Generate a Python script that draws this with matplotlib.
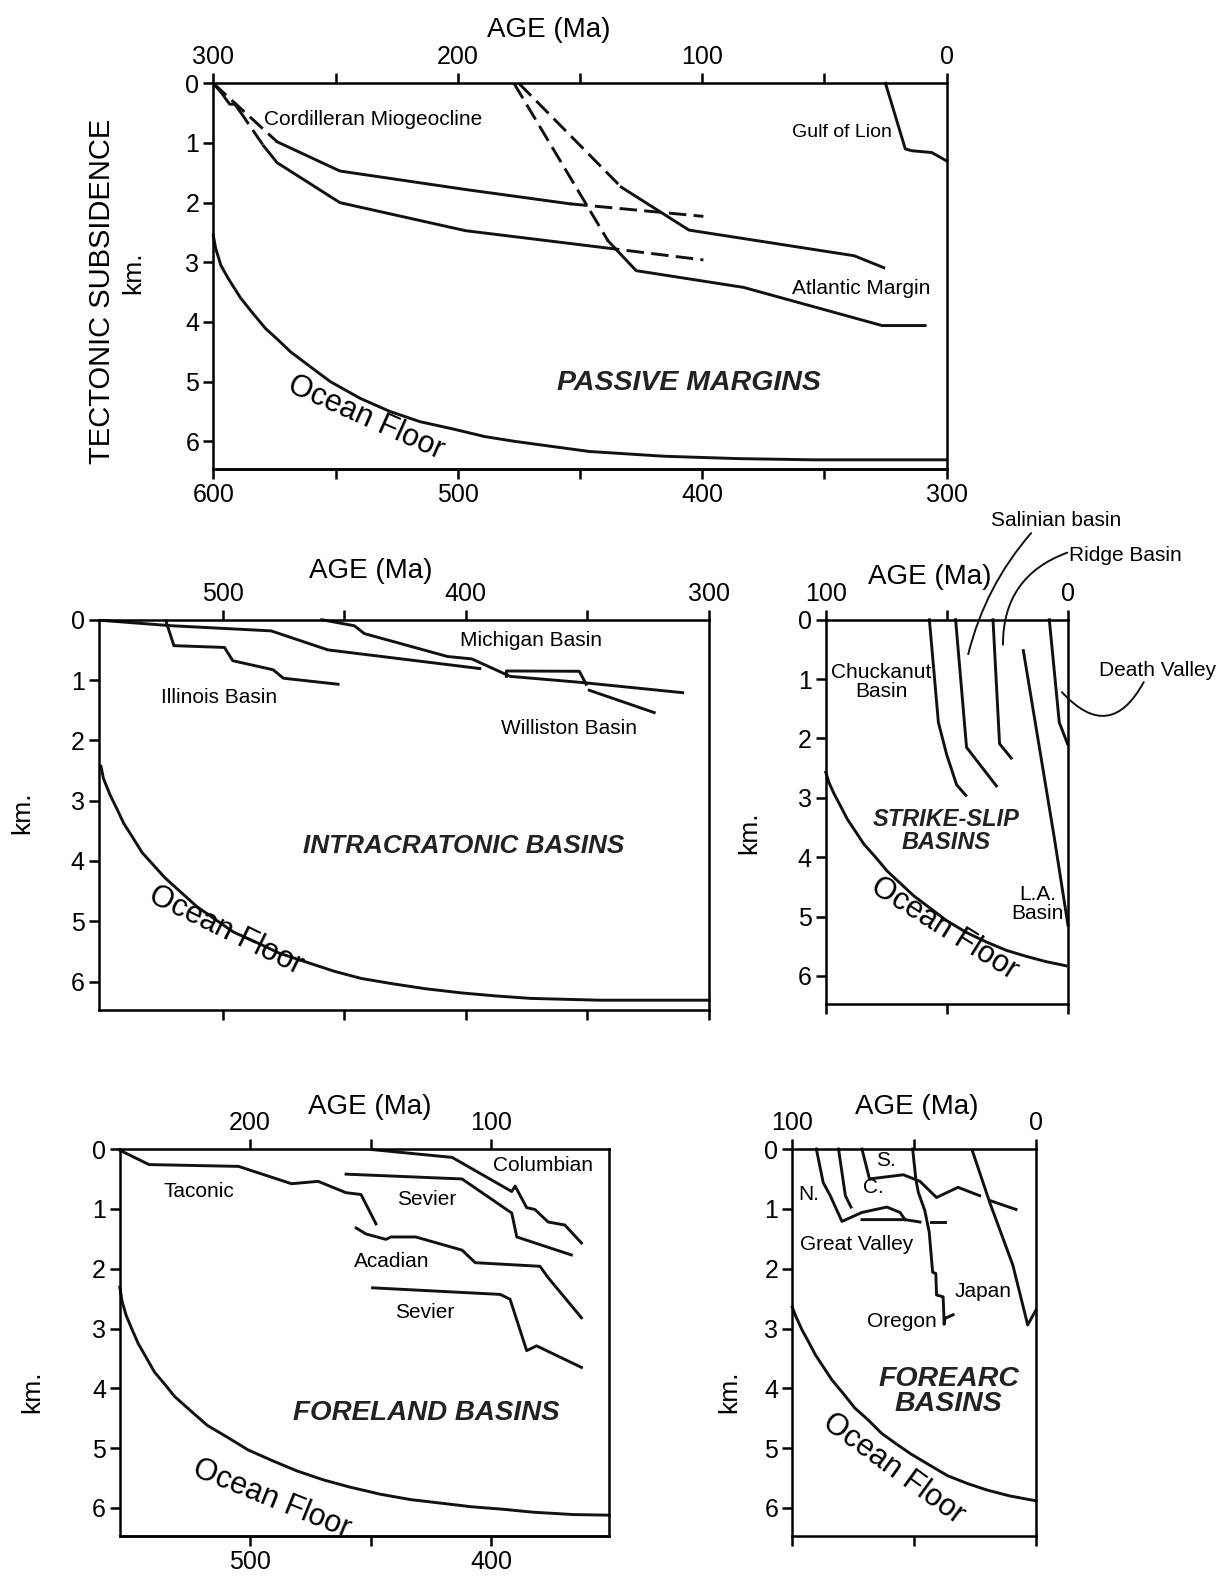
import numpy as np
import matplotlib.pyplot as plt

plt.rcParams['font.family'] = ['Liberation Sans', 'DejaVu Sans']
plt.rcParams['axes.linewidth'] = 1.8
plt.rcParams['xtick.direction'] = 'out'
plt.rcParams['ytick.direction'] = 'out'

# ---------------- Passive margins (ages on top axis 300-0 Ma unless noted) ----------------
pm_ocean_age = [300, 299, 296.9, 293.9, 288.8, 283.7, 278.6, 273.5, 268.4, 260.3, 252.1, 239.9,
                227.7, 215.5, 201.2, 189, 176.8, 162.5, 146.2, 131, 115.7, 85.1, 54.6, 0]
pm_ocean_km = [2.55, 2.77, 3.05, 3.27, 3.6, 3.86, 4.11, 4.3, 4.5, 4.75, 5.0, 5.28,
               5.5, 5.67, 5.8, 5.92, 6.0, 6.08, 6.17, 6.21, 6.25, 6.29, 6.31, 6.31]

# Cordilleran miogeocline, Paleozoic ages (bottom axis 600-300 Ma)
cord_up_dash1_age = [600, 573.9]
cord_up_dash1_km = [0.0, 0.98]
cord_up_age = [573.9, 548.2, 496.8, 454]
cord_up_km = [0.98, 1.47, 1.78, 2.02]
cord_up_dash2_age = [454, 399.5]
cord_up_dash2_km = [2.02, 2.23]

cord_lo_start_age = [600, 596.5, 593.3, 591.25, 589.6]
cord_lo_start_km = [0.0, 0.17, 0.35, 0.35, 0.44]
cord_lo_dash1_age = [589.6, 579.4]
cord_lo_dash1_km = [0.44, 1.05]
cord_lo_age = [579.4, 573.9, 548.2, 496.8, 441]
cord_lo_km = [1.05, 1.33, 2.0, 2.47, 2.75]
cord_lo_dash2_age = [441, 399.5]
cord_lo_dash2_km = [2.75, 2.96]

atl_up_dash_age = [175, 133.1]
atl_up_dash_km = [0.0, 1.74]
atl_up_age = [133.1, 105.4, 37.8, 25.7]
atl_up_km = [1.74, 2.46, 2.89, 3.09]

atl_lo_dash_age = [177, 138.5]
atl_lo_dash_km = [0.0, 2.64]
atl_lo_age = [138.5, 127, 83.1, 26.4, 8.8]
atl_lo_km = [2.64, 3.14, 3.42, 4.06, 4.06]

lion_age = [25, 16.9, 14.2, 6.1, 0]
lion_km = [0.0, 1.1, 1.13, 1.16, 1.3]

# ---------------- Intracratonic basins (Ma) ----------------
ic_ocean_age = [550, 549.0, 546.2, 543.4, 540.6, 536.8, 533.1, 528.4, 523.7, 517.1, 510.5, 503,
                495.5, 486.1, 476.7, 465.4, 454.1, 442.9, 429.7, 416.5, 401.5, 387.4, 373.3, 345.1, 300]
ic_ocean_km = [2.43, 2.63, 2.91, 3.14, 3.38, 3.62, 3.86, 4.07, 4.28, 4.52, 4.76, 4.97,
               5.18, 5.35, 5.53, 5.68, 5.83, 5.95, 6.04, 6.12, 6.19, 6.24, 6.28, 6.31, 6.31]
illinois_age = [523.3, 520, 499.2, 495.8, 479.2, 475, 452.5]
illinois_km = [0.02, 0.43, 0.46, 0.68, 0.83, 0.97, 1.07]
williston_age = [550, 524.2, 520.8, 480, 456.7, 394.2]
williston_km = [0.01, 0.09, 0.1, 0.185, 0.5, 0.81]
williston_step_age = [383.3, 383.3, 353.3, 350.5]
williston_step_km = [0.94, 0.85, 0.855, 1.07]
williston_tail_age = [349.2, 322.5]
williston_tail_km = [1.17, 1.54]
michigan_age = [459.2, 445.8, 441.7, 407.5, 397.5, 381.7, 352.5, 310.8]
michigan_km = [0.0, 0.1, 0.23, 0.61, 0.65, 0.94, 1.04, 1.21]

# ---------------- Strike-slip basins (Ma) ----------------
ss_ocean_age = [100, 98.6, 96.6, 93.9, 91.1, 87.7, 84.3, 79.5, 74.8, 69.3, 63.8, 57, 50.2,
                42, 33.8, 25.6, 17.5, 9.3, 1.1]
ss_ocean_km = [2.57, 2.75, 2.93, 3.14, 3.36, 3.57, 3.78, 4.0, 4.23, 4.44, 4.65, 4.86, 5.07,
               5.27, 5.43, 5.57, 5.67, 5.76, 5.83]
chuckanut_age = [57.3, 53.6, 50.2, 46.1, 42.3]
chuckanut_km = [0.0, 1.73, 2.27, 2.78, 2.96]
salinian_age = [46.5, 42, 35.2, 29.7]
salinian_km = [0.0, 2.15, 2.51, 2.8]
ridge_age = [31.1, 28.4, 23.6]
ridge_km = [0.0, 2.09, 2.33]
la_age = [18.6, 12, 5.9, 0.2]
la_km = [0.52, 2.15, 3.66, 5.15]
death_age = [7.9, 3.8, 0.4]
death_km = [0.0, 1.73, 2.09]

# ---------------- Foreland basins ----------------
# Mesozoic ages (top axis) and Paleozoic ages (bottom axis = top + 300)
fl_ocean_age = [254, 253.1, 251.4, 248.9, 246.4, 243, 239.6, 235.4, 231.2, 224.5, 217.7, 209.3,
                200.8, 190.7, 180.6, 169.6, 158.7, 146, 133.4, 120.7, 108.1, 95.4, 82.8, 65.9, 51.1]
fl_ocean_km = [2.31, 2.54, 2.78, 3.02, 3.25, 3.49, 3.73, 3.93, 4.14, 4.38, 4.62, 4.82,
               5.03, 5.21, 5.38, 5.53, 5.65, 5.77, 5.86, 5.92, 5.98, 6.02, 6.07, 6.11, 6.12]
taconic_age = [554, 541.9, 504.8, 482.8, 471.8, 460.2, 454, 447.8]
taconic_km = [0.02, 0.26, 0.29, 0.58, 0.54, 0.73, 0.76, 1.25]
acadian_age = [456, 451.9, 443.7, 441.6, 431.3, 412.1, 406.6, 379.8, 376.4, 362.6]
acadian_km = [1.32, 1.42, 1.51, 1.47, 1.47, 1.69, 1.9, 1.96, 2.15, 2.82]
columbian_age = [149.2, 116.2, 91.5, 90.1, 85.3, 81.9, 76.4, 69.5, 62.6]
columbian_km = [0.01, 0.14, 0.71, 0.62, 0.98, 1.01, 1.22, 1.27, 1.57]
sevier1_age = [160.2, 112.1, 91.5, 89.4, 66.8]
sevier1_km = [0.42, 0.5, 1.07, 1.47, 1.77]
sevier2_age = [149.2, 96.3, 92.2, 85.3, 81.2, 62.6]
sevier2_km = [2.32, 2.43, 2.51, 3.37, 3.29, 3.65]

# ---------------- Forearc basins (Ma) ----------------
fa_ocean_age = [100, 98.6, 95.9, 93.2, 90.5, 87.1, 83.7, 79, 74.3, 68.8, 63.4, 57.3, 51.2,
                43.8, 36.3, 28.2, 20.1, 10.6, 0]
fa_ocean_km = [2.64, 2.79, 3.03, 3.23, 3.44, 3.65, 3.86, 4.09, 4.33, 4.53, 4.75, 4.93, 5.1,
               5.28, 5.46, 5.59, 5.7, 5.8, 5.88]
gv_n_age = [90.1, 87.3, 84.4, 79.6, 71.4, 61.2, 55.8, 53.7]
gv_n_km = [0.0, 0.56, 0.78, 1.21, 1.06, 0.97, 1.06, 1.18]
gv_c_age = [81, 78.2, 75.9]
gv_c_km = [0.0, 0.78, 0.97]
gv_base_age = [71.4, 53.7, 47.6]
gv_base_km = [1.18, 1.18, 1.22]
gv_base_dash_age = [42.9, 37.4]
gv_base_dash_km = [1.22, 1.22]
gv_s_age = [71.4, 68.3, 54.4, 47.6, 40.8, 32, 23.1]
gv_s_km = [0.0, 0.5, 0.43, 0.54, 0.81, 0.64, 0.78]
gv_s_dash_age = [19, 8.2]
gv_s_dash_km = [0.86, 1.01]
oregon_age = [50.6, 49.3, 48.3, 45.6, 43.8, 42.4, 41.1, 40.8, 38.1, 37.8, 37.7, 37.3, 34]
oregon_km = [0.0, 0.5, 0.72, 1.03, 1.39, 2.06, 2.08, 2.44, 2.47, 2.77, 2.93, 2.83, 2.77]
japan_age = [26.1, 19, 9.5, 3.4, 0]
japan_km = [0.03, 0.89, 1.94, 2.94, 2.69]

LW = 2.1
DASH = (0, (6, 2.5))
YMAX = 6.47
TICK = 18
LAB = 15


def line(ax, x, y, dashed=False, shift=0):
    ax.plot(np.asarray(x) - shift, y, color='#111111', lw=LW,
            ls=DASH if dashed else '-', solid_joinstyle='round', clip_on=False)


def frame(ax, xlim, top_ticks, top_labels):
    ax.set_xlim(*xlim)
    ax.set_ylim(YMAX, 0)
    ax.set_yticks(range(7))
    ax.set_xticks(top_ticks, labels=top_labels)
    ax.tick_params(axis='x', top=True, bottom=True, labeltop=True,
                   labelbottom=False, length=7, width=1.8, labelsize=TICK, pad=3)
    ax.tick_params(axis='y', length=7, width=1.8, labelsize=TICK, pad=3)


def title(ax, x, y, s, size):
    ax.text(x, y, s, fontsize=size, fontweight='bold', fontstyle='italic',
            ha='center', va='center', linespacing=0.95, color='#222222')


def ocean(ax, x, y, rot):
    ax.text(x, y, 'Ocean Floor', fontsize=22, rotation=rot, ha='center',
            va='center', rotation_mode='anchor')


def lab(ax, x, y, s, size=LAB, **kw):
    ax.text(x, y, s, fontsize=size, ha='center', va='center', linespacing=0.95, **kw)


fig = plt.figure(figsize=(12.31, 15.93), dpi=100)
W, H = 1212.0, 1568.0


def box(l, r, t, b):
    return fig.add_axes([l / W, 1 - b / H, (r - l) / W, (b - t) / H])


# ---- Passive margins ----
ax1 = box(210, 932, 82, 462)
frame(ax1, (300, 0), [300, 250, 200, 150, 100, 50, 0], ['300', '', '200', '', '100', '', '0'])
sec = ax1.secondary_xaxis('bottom', functions=(lambda x: x + 300, lambda x: x - 300))
sec.set_xticks([600, 550, 500, 450, 400, 350, 300], labels=['600', '', '500', '', '400', '', '300'])
sec.tick_params(length=7, width=1.8, labelsize=TICK, pad=3)
ax1.tick_params(axis='x', bottom=False)
line(ax1, pm_ocean_age, pm_ocean_km)
line(ax1, cord_up_dash1_age, cord_up_dash1_km, True, 300)
line(ax1, cord_up_age, cord_up_km, shift=300)
line(ax1, cord_up_dash2_age, cord_up_dash2_km, True, 300)
line(ax1, cord_lo_start_age, cord_lo_start_km, shift=300)
line(ax1, cord_lo_dash1_age, cord_lo_dash1_km, True, 300)
line(ax1, cord_lo_age, cord_lo_km, shift=300)
line(ax1, cord_lo_dash2_age, cord_lo_dash2_km, True, 300)
line(ax1, atl_up_dash_age, atl_up_dash_km, True)
line(ax1, atl_up_age, atl_up_km)
line(ax1, atl_lo_dash_age, atl_lo_dash_km, True)
line(ax1, atl_lo_age, atl_lo_km)
line(ax1, lion_age, lion_km)
lab(ax1, 234.7, 0.61, 'Cordilleran Miogeocline')
lab(ax1, 42.8, 0.82, 'Gulf of Lion', size=14)
lab(ax1, 34.9, 3.44, 'Atlantic Margin')
title(ax1, 105.5, 5.03, 'PASSIVE MARGINS', 20.5)
ocean(ax1, 237.5, 5.6, -24)

# ---- Intracratonic basins ----
ax2 = box(97, 698, 610, 994)
frame(ax2, (551, 300), [500, 450, 400, 350, 300], ['500', '', '400', '', '300'])
line(ax2, ic_ocean_age, ic_ocean_km)
line(ax2, illinois_age, illinois_km)
line(ax2, williston_age, williston_km)
line(ax2, williston_step_age, williston_step_km)
line(ax2, williston_tail_age, williston_tail_km)
line(ax2, michigan_age, michigan_km)
lab(ax2, 373.2, 0.34, 'Michigan Basin')
lab(ax2, 501.3, 1.29, 'Illinois Basin')
lab(ax2, 357.4, 1.8, 'Williston Basin')
title(ax2, 400.7, 3.76, 'INTRACRATONIC BASINS', 18.8)
ocean(ax2, 498.8, 5.15, -26)

# ---- Strike-slip basins ----
ax3 = box(813, 1052, 610, 988)
frame(ax3, (100, 0), [100, 50, 0], ['100', '', '0'])
line(ax3, ss_ocean_age, ss_ocean_km)
line(ax3, chuckanut_age, chuckanut_km)
line(ax3, salinian_age, salinian_km)
line(ax3, ridge_age, ridge_km)
line(ax3, la_age, la_km)
line(ax3, death_age, death_km)
lab(ax3, 77, 1.05, 'Chuckanut\nBasin')
lab(ax3, 12.6, 4.79, 'L.A.\nBasin')
lab(ax3, 5.0, -1.68, 'Salinian basin')
lab(ax3, -23.4, -1.09, 'Ridge Basin')
lab(ax3, -36.8, 0.85, 'Death Valley')
lead = dict(arrowstyle='-', lw=1.4, color='#111111', shrinkA=0, shrinkB=0)
ax3.annotate('', xy=(41.3, 0.58), xytext=(15.4, -1.46), annotation_clip=False,
             arrowprops=dict(lead, connectionstyle='arc3,rad=0.12'))
ax3.annotate('', xy=(27, 0.42), xytext=(0.5, -1.13), annotation_clip=False,
             arrowprops=dict(lead, connectionstyle='arc3,rad=0.35'))
ax3.annotate('', xy=(2.7, 1.22), xytext=(-31, 1.05), annotation_clip=False,
             arrowprops=dict(lead, connectionstyle='arc3,rad=-0.7'))
title(ax3, 50.2, 3.56, 'STRIKE-SLIP\nBASINS', 17)
ocean(ax3, 51, 5.2, -32)

# ---- Foreland basins ----
ax4 = box(118, 600, 1131, 1512)
frame(ax4, (254, 51), [200, 150, 100], ['200', '', '100'])
sec4 = ax4.secondary_xaxis('bottom', functions=(lambda x: x + 300, lambda x: x - 300))
sec4.set_xticks([500, 450, 400], labels=['500', '', '400'])
sec4.tick_params(length=7, width=1.8, labelsize=TICK, pad=3)
ax4.tick_params(axis='x', bottom=False)
line(ax4, fl_ocean_age, fl_ocean_km)
line(ax4, taconic_age, taconic_km, shift=300)
line(ax4, acadian_age, acadian_km, shift=300)
line(ax4, columbian_age, columbian_km)
line(ax4, sevier1_age, sevier1_km)
line(ax4, sevier2_age, sevier2_km)
lab(ax4, 221.2, 0.71, 'Taconic')
lab(ax4, 78.7, 0.28, 'Columbian')
lab(ax4, 126.7, 0.84, 'Sevier')
lab(ax4, 141.2, 1.88, 'Acadian')
lab(ax4, 127.5, 2.74, 'Sevier')
title(ax4, 127.1, 4.41, 'FORELAND BASINS', 20)
ocean(ax4, 191, 5.85, -22)

# ---- Forearc basins ----
ax5 = box(780, 1020, 1131, 1512)
frame(ax5, (100, 0), [100, 50, 0], ['100', '', '0'])
line(ax5, fa_ocean_age, fa_ocean_km)
line(ax5, gv_n_age, gv_n_km)
line(ax5, gv_c_age, gv_c_km)
line(ax5, gv_base_age, gv_base_km)
line(ax5, gv_base_dash_age, gv_base_dash_km)
line(ax5, gv_s_age, gv_s_km)
line(ax5, gv_s_dash_age, gv_s_dash_km)
line(ax5, oregon_age, oregon_km)
line(ax5, japan_age, japan_km)
lab(ax5, 93.3, 0.76, 'N.')
lab(ax5, 66.7, 0.64, 'C.')
lab(ax5, 61.7, 0.2, 'S.')
lab(ax5, 73.75, 1.6, 'Great Valley')
lab(ax5, 21.7, 2.38, 'Japan')
lab(ax5, 55, 2.88, 'Oregon')
title(ax5, 35.8, 4.05, 'FOREARC\nBASINS', 20.5)
ocean(ax5, 58.3, 5.35, -36)

# ---- axis titles ----
for x, y in [(540, 30), (365, 562), (915, 568), (364, 1090), (903, 1090)]:
    fig.text(x / W, 1 - y / H, 'AGE (Ma)', fontsize=20, ha='center', va='center')
fig.text(100 / W, 1 - 287 / H, 'TECTONIC SUBSIDENCE', fontsize=21, rotation=90,
         ha='center', va='center')
for x, y in [(131, 268), (22, 800), (738, 820), (32, 1370), (718, 1370)]:
    fig.text(x / W, 1 - y / H, 'km.', fontsize=19, rotation=90, ha='center', va='center')

fig.savefig('out.png', dpi=100, facecolor='white')
